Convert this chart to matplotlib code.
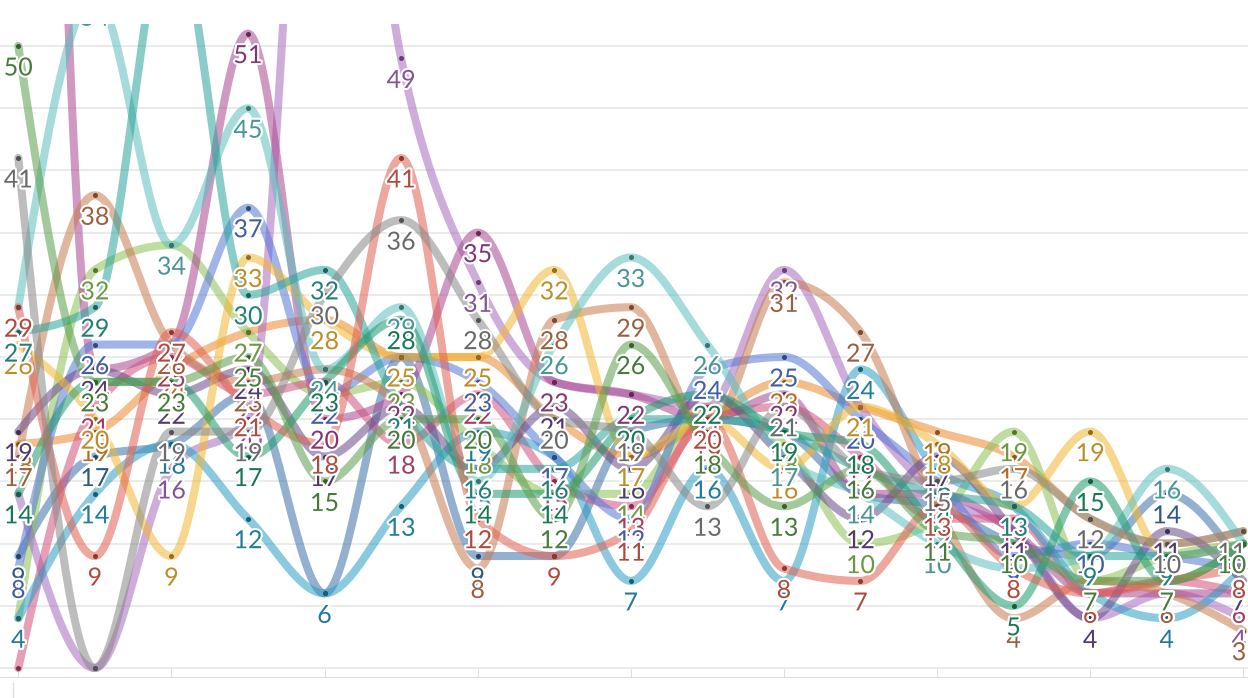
import numpy as np
import matplotlib
matplotlib.use("Agg")
import matplotlib.pyplot as plt
import matplotlib.patheffects as pe
from matplotlib import colors as mcolors
from matplotlib.lines import Line2D

plt.rcParams['font.family'] = ['Lato', 'DejaVu Sans']

# 17 categories along x
categories = list(range(17))

# one list per series (off-chart values estimated)
green    = [50, 23, 23, 25, 15, 20, 20, 12, 26, 18, 13, 16, 11, 10, 7, 7, 10]
gray     = [41, 0, 19, 19, 30, 36, 28, 20, 19, 13, 21, 16, 15, 16, 12, 10, 11]
red      = [29, 9, 27, 21, 18, 41, 12, 9, 11, 20, 8, 7, 13, 8, 6, 7, 8]
teal     = [14, 23, 23, 17, 23, 28, 14, 14, 20, 22, 19, 18, 11, 5, 15, 7, 10]
dteal    = [27, 29, 60, 30, 32, 21, 16, 16, 20, 20, 19, 16, 14, 13, 9, 9, 10]
lteal    = [29, 54, 34, 45, 24, 29, 15, 26, 33, 26, 17, 14, 10, 8, 9, 16, 10]
yellow   = [26, 20, 9, 33, 28, 25, 25, 32, 17, 20, 16, 21, 18, 13, 19, 9, 10]
orange   = [18, 19, 24, 27, 28, 25, 25, 20, 17, 20, 23, 21, 19, 17, 12, 10, 11]
brown    = [17, 38, 26, 23, 24, 21, 8, 28, 29, 19, 31, 27, 13, 4, 7, 6, 3]
blue     = [8, 26, 26, 37, 22, 25, 23, 17, 12, 24, 25, 20, 15, 9, 10, 9, 8]
cyan     = [4, 14, 18, 12, 6, 13, 19, 17, 7, 16, 7, 24, 16, 13, 6, 4, 8]
crimson  = [0, 21, 25, 22, 23, 18, 22, 15, 13, 20, 21, 17, 12, 12, 6, 7, 6]
magenta  = [200, 24, 26, 51, 20, 22, 35, 23, 22, 20, 22, 14, 14, 11, 6, 6, 6]
lavender = [14, 0, 16, 20, 90, 49, 31, 23, 22, 21, 32, 21, 14, 11, 4, 6, 4]
lgreen   = [4, 32, 34, 27, 22, 23, 18, 14, 14, 21, 18, 10, 12, 19, 7, 9, 10]
dpurple  = [19, 24, 22, 24, 17, 21, 16, 21, 16, 22, 17, 12, 17, 11, 4, 11, 7]
steel    = [9, 17, 18, 22, 6, 25, 9, 9, 19, 20, 19, 14, 13, 10, 9, 14, 8]

series = [
    (steel, '#3d6fa8'), (orange, '#eb8a2e'), (lgreen, '#8cc152'),
    (lavender, '#a86bbf'), (magenta, '#a8458f'), (crimson, '#d0507c'),
    (cyan, '#2b9ec4'), (blue, '#5577d6'), (brown, '#c77a50'),
    (dpurple, '#6a4a8c'), (yellow, '#f2b632'), (lteal, '#5cbfbf'),
    (dteal, '#2aa39a'), (teal, '#1f9a6e'), (red, '#e06050'),
    (gray, '#888888'), (green, '#5a9e4b'),
]


def monotone(x, y, n=40):
    """monotone cubic curve through the points (like d3 curveMonotoneX)"""
    x = np.asarray(x, float)
    y = np.asarray(y, float)
    h = np.diff(x)
    s = np.diff(y) / h
    m = np.zeros_like(y)
    for i in range(1, len(y) - 1):
        p = (s[i - 1] * h[i] + s[i] * h[i - 1]) / (h[i - 1] + h[i])
        m[i] = (np.sign(s[i - 1]) + np.sign(s[i])) * min(abs(s[i - 1]), abs(s[i]), 0.5 * abs(p))
    m[0] = (3 * s[0] - m[1]) / 2
    m[-1] = (3 * s[-1] - m[-2]) / 2
    xs, ys = [], []
    for i in range(len(h)):
        t = np.linspace(0, 1, n)
        h00 = 2 * t**3 - 3 * t**2 + 1
        h10 = t**3 - 2 * t**2 + t
        h01 = -2 * t**3 + 3 * t**2
        h11 = t**3 - t**2
        xs.append(x[i] + t * h[i])
        ys.append(h00 * y[i] + h10 * h[i] * m[i] + h01 * y[i + 1] + h11 * h[i] * m[i + 1])
    return np.concatenate(xs), np.concatenate(ys)


def darker(c, f=0.78):
    r, g, b = mcolors.to_rgb(c)
    return (r * f, g * f, b * f)


W, H = 1248, 698
fig = plt.figure(figsize=(W / 100, H / 100), dpi=100)
ax = fig.add_axes([0, 21 / H, 1, (677 - 24) / H])

px_unit = 12.44
ax.set_ylim(-(677 - 668) / px_unit, (668 - 24) / px_unit)
step = 76.56
ax.set_xlim(-18.3 / step, (W - 18.3) / step)

ax.set_yticks(np.arange(0, 51, 5))
ax.yaxis.grid(True, color='#e8e8e8', linewidth=1.2)
ax.set_axisbelow(True)
ax.tick_params(axis='y', length=0, labelleft=False)
ax.set_xticks(categories[::2])
ax.tick_params(axis='x', direction='in', length=6.5, color='#e0e0e0', labelbottom=False)
for side in ['top', 'left', 'right']:
    ax.spines[side].set_visible(False)
ax.spines['bottom'].set_color('#dddddd')

for vals, col in series:
    cx, cy = monotone(categories, vals)
    ax.plot(cx, cy, color=col, lw=5.8, alpha=0.55, solid_capstyle='round', zorder=2)

for vals, col in series:
    ax.plot(categories, vals, 'o', color=darker(col, 0.6), ms=2.6, zorder=3)

last = categories[-1]
for vals, col in series:
    for i, v in zip(categories, vals):
        # labels of the last column are pushed inside the right edge
        ha, dx = ('right', 3) if i == last else ('center', 0)
        ax.annotate(str(v), (i, v), xytext=(dx, -22), textcoords='offset pixels',
                    ha=ha, va='center', fontsize=18, color=darker(col),
                    annotation_clip=False, clip_on=True, zorder=4,
                    path_effects=[pe.withStroke(linewidth=3, foreground='white')])

fig.add_artist(Line2D([13 / W, 13 / W], [0, 15 / H], color='#dddddd', lw=1))

plt.savefig('out.png', dpi=100)
